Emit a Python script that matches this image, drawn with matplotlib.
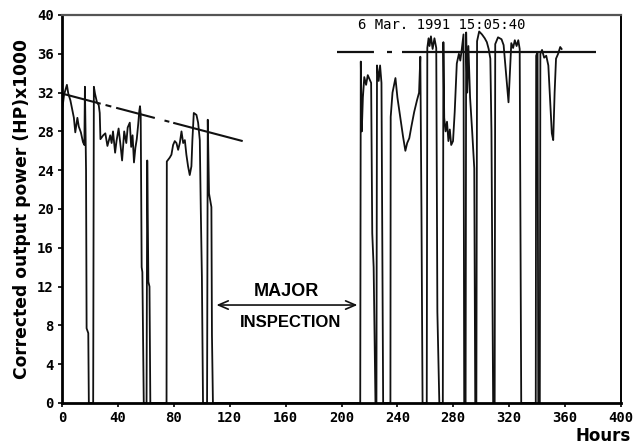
import matplotlib
matplotlib.use("Agg")
import matplotlib.pyplot as plt

# trace: hours vs corrected output power (HP x 1000)
hours = [0, 0.3, 1.5, 3.5, 4.5, 6, 7, 8.5, 9.5, 11, 12, 13.5, 15, 16, 16.4, 17.2, 17.6, 18.8, 19.2,
         22.3, 22.8, 23.6, 25, 26.3, 27, 27.5, 29.5, 31, 32.5, 34.5, 35.5, 36.5, 38, 39, 40.5, 42, 43,
         44.5, 46, 47, 48.5, 49.5, 50.5, 51.5, 52.5, 53.5, 54.5, 55.3, 55.8, 56.3, 57, 57.5, 58.5,
         60.5, 61, 61.8, 62.6, 63.2,
         74.8, 75.0, 77.1, 78.3, 79.5, 80.7, 81.9, 83.1, 84.3, 85.5, 86.7, 87.9, 89.0, 90.2, 91.4,
         92.6, 93.3, 94.3, 96.2, 97.4, 98.6, 99.3, 100.1, 100.9, 103.8, 104.3, 105.2, 106.9, 107.3, 108,
         213.4, 213.8, 214.5, 215.3, 216.3, 217.6, 218.8, 220.0, 221.2, 222.0, 223.0, 224.3,
         225.0, 225.4, 226.6, 227.6, 228.6, 229.8, 235.0, 235.2, 236.5, 238.6, 240, 242, 244, 245.7,
         247, 248.5, 250, 252, 254, 255.5, 256.4, 257.2, 258.0, 261.0, 261.4, 262.3, 263.0, 264.0,
         265.2, 266.5, 267.8, 268.6, 270, 272.5, 272.9, 273.5, 274.5, 275.5, 276.5, 277.5, 278.5,
         279.8, 281, 282.5, 284, 285, 286, 287.3, 287.8, 288.8, 289.2, 290, 290.8, 292, 293.5, 295,
         295.7, 296.5, 297.0, 298.5, 300.5, 302.5, 304, 305.3, 306.5, 307.3, 308.5,
         309.6, 310.0, 312, 314.5, 316, 318, 319.5, 320.5, 321.5, 322.8, 324, 325.3, 326.5, 327.5,
         328.6, 339, 339.3, 340.3, 340.8, 341.9, 342.3, 343.5, 345, 346.5, 348, 349.5, 350.5, 351.5,
         352.5, 353.5, 355, 356.5, 357.5]
power = [0, 30.4, 31.8, 32.8, 31.9, 31.2, 30.5, 29.4, 27.9, 29.4, 28.5, 27.9, 26.9, 26.6, 32.6, 24, 7.7, 7.2, 0,
         0, 32.6, 31.9, 31.0, 30.7, 29.9, 27.2, 27.6, 27.8, 26.5, 27.6, 26.8, 28.0, 25.8, 27.0, 28.3, 26.4, 25.0,
         28.0, 26.8, 28.4, 28.9, 26.4, 27.6, 24.8, 26.3, 27.2, 28.7, 30.1, 30.6, 29.8, 14, 13.5, 0,
         0, 25, 12.5, 12, 0,
         0, 24.9, 25.3, 25.6, 26.6, 27.0, 26.8, 26.1, 26.8, 28.0, 26.8, 27.1, 25.6, 24.4, 23.5,
         24.4, 27.1, 29.9, 29.7, 28.9, 27.1, 20, 13, 0, 0, 29.2, 21.6, 20.2, 7, 0,
         0, 35.2, 28.0, 31.5, 33.6, 32.8, 33.8, 33.4, 33.0, 17.5, 14, 0,
         0, 34.8, 33.2, 34.8, 33.0, 0, 0, 29.5, 32.0, 33.5, 31.5, 29.5, 27.5, 26.0,
         26.8, 27.3, 28.5, 30.0, 31.2, 32.0, 35.7, 20, 0, 0, 36.6, 37.6, 36.8, 37.8,
         36.5, 37.6, 36.6, 9.4, 0, 0, 37.2, 29.4, 28.0, 29.0, 27.0, 28.2, 26.6,
         27.0, 30, 35.0, 36.0, 35.3, 36.4, 38.0, 0, 0, 38.2, 32, 36.8, 31.5, 28, 24.2,
         0, 0, 37.3, 38.3, 38.0, 37.6, 37.2, 36.5, 35.5, 28, 0,
         0, 37.0, 37.7, 37.5, 36.9, 33.5, 31.0, 34, 37.1, 36.6, 37.4, 36.8, 37.4, 36.5,
         0, 0, 35.8, 36.2, 0, 0, 36.0, 36.4, 35.6, 35.8, 34.8, 30.5, 27.8, 27.1,
         32, 35.5, 36.0, 36.7, 36.5]

# fitted reference lines
left_fit_x = [0, 129.3]
left_fit_y = [31.9, 27.0]
right_fit_x = [197, 382]
right_fit_y = [36.2, 36.2]

x_ticks = list(range(0, 401, 40))
y_ticks = list(range(0, 41, 4))

plt.rcParams['lines.scale_dashes'] = False

fig = plt.figure(figsize=(6.34, 4.45), dpi=100)
ax = fig.add_axes([0.0978, 0.0944, 0.8817, 0.8719])

ax.plot(hours, power, color="#111111", lw=1.3)

l1, = ax.plot(left_fit_x, left_fit_y, color="#111111", lw=1.5)
l1.set_dashes([28.8, 3.6, 4.3, 3.6, 28.8, 7.2, 3.6, 2.9, 80])
l2, = ax.plot(right_fit_x, right_fit_y, color="#111111", lw=1.6)
l2.set_dashes([26.6, 9.4, 3.6, 7.2, 250, 5])

ax.set_xlim(0, 400)
ax.set_ylim(0, 40)
ax.set_xticks(x_ticks)
ax.set_yticks(y_ticks)
ax.tick_params(direction="out", length=3, width=1.2, pad=3, labelsize=10)
for lbl in ax.get_xticklabels() + ax.get_yticklabels():
    lbl.set_fontfamily("DejaVu Sans Mono")
    lbl.set_fontweight("bold")

for side in ["left", "bottom"]:
    ax.spines[side].set_linewidth(2.0)
ax.spines["right"].set_linewidth(1.4)
ax.spines["top"].set_linewidth(1.6)
ax.spines["top"].set_color("#555555")

ax.set_ylabel("Corrected output power (HP)x1000", fontsize=12.3, fontweight="bold",
              family="DejaVu Sans", labelpad=4)
fig.text(0.951, 0.0202, "Hours", fontsize=12, fontweight="bold", family="DejaVu Sans",
         ha="center", va="center")

ax.text(271.4, 39.0, "6 Mar. 1991 15:05:40", family="DejaVu Sans Mono", fontsize=10,
        ha="center", va="center")

ax.annotate("", xy=(110.5, 10.1), xytext=(211.4, 10.1),
            arrowprops=dict(arrowstyle="<->,head_length=0.7,head_width=0.3", lw=1.2, color="#111111",
                            shrinkA=0, shrinkB=0))
ax.text(160.7, 11.5, "MAJOR", fontsize=13, fontweight="bold", family="Liberation Sans",
        ha="center", va="center")
ax.text(163.6, 8.25, "INSPECTION", fontsize=12, fontweight="bold", family="Liberation Sans",
        ha="center", va="center")

fig.savefig("out.png", dpi=100)
